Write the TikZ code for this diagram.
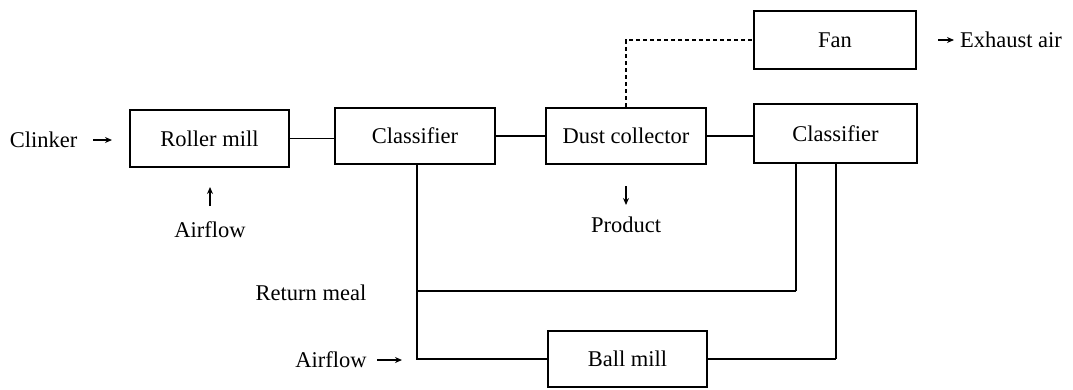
\documentclass[tikz,border=0pt]{standalone}
\usepackage{fontspec}
\setmainfont{Liberation Serif}
\usetikzlibrary{arrows.meta}
\begin{document}
\begin{tikzpicture}[x=1pt,y=-1pt,
  box/.style={draw,line width=2.4pt,minimum width=159pt,minimum height=57pt,inner sep=0pt,font=\fontsize{22.5}{27}\selectfont},
  lbl/.style={inner sep=0pt,font=\fontsize{22.5}{27}\selectfont},
  conn/.style={line width=1.7pt},
  thick conn/.style={line width=2.6pt},
  arr/.style={line width=1.7pt,-{Stealth[length=7pt,width=6pt]}}]
\useasboundingbox (0,0) rectangle (1073,389);
\node[box] (rm) at (209.5,138.5) {Roller mill};
\node[box,minimum width=160pt,minimum height=56pt] (cl1) at (415,136) {Classifier};
\node[box,minimum width=160pt,minimum height=56pt] (dc) at (626,136) {Dust collector};
\node[box,minimum width=162pt,minimum height=58pt] (fan) at (835,40) {Fan};
\node[box,minimum width=163pt,minimum height=59pt] (cl2) at (835.5,133.5) {Classifier};
\node[box,minimum width=159pt,minimum height=56pt] (bm) at (627.5,359) {Ball mill};
% labels
\node[lbl] (clinker) at (43.5,140) {Clinker};
\node[lbl] (exh) at (1011,40) {Exhaust air};
\node[lbl] (air1) at (210,230) {Airflow};
\node[lbl] (prod) at (626,225) {Product};
\node[lbl] (ret) at (311,293) {Return meal};
\node[lbl] (air2) at (331,360) {Airflow};
% arrow end coordinates
\coordinate (clA) at (93,140);
\coordinate (clB) at (112,140);
\coordinate (exA) at (938,40);
\coordinate (exB) at (954,40);
\coordinate (a1A) at (210,206);
\coordinate (a1B) at (210,187);
\coordinate (pA) at (626,186);
\coordinate (pB) at (626,205);
\coordinate (a2A) at (377,360);
\coordinate (a2B) at (402,360);
\coordinate (rj) at (417,291);
\coordinate (c2l) at (796,163);
\coordinate (c2lb) at (796,291);
\coordinate (c1b) at (417,359);
\coordinate (c2rb) at (836,359);
% arrows
\draw[arr] (clA) -- (clB);
\draw[arr] (exA) -- (exB);
\draw[arr] (a1A) -- (a1B);
\draw[arr] (pA) -- (pB);
\draw[arr] (a2A) -- (a2B);
% connectors
\draw[conn] (rm.east) -- (rm.east -| cl1.west);
\draw[conn] (cl1.east) -- (dc.west);
\draw[conn] (dc.east) -- (dc.east -| cl2.west);
\draw[line width=2.4pt,dash pattern=on 4pt off 3pt] (dc.north) |- (fan.west);
\draw[thick conn] (cl1.south -| rj) -- (c1b) -- (bm.west);
\draw[thick conn] (c2l) -- (c2lb);
\draw[conn] (c2lb) -- (rj);
\draw[conn] (bm.east) -- (c2rb);
\draw[thick conn] (c2rb) -- (cl2.south -| c2rb);
\end{tikzpicture}
\end{document}
